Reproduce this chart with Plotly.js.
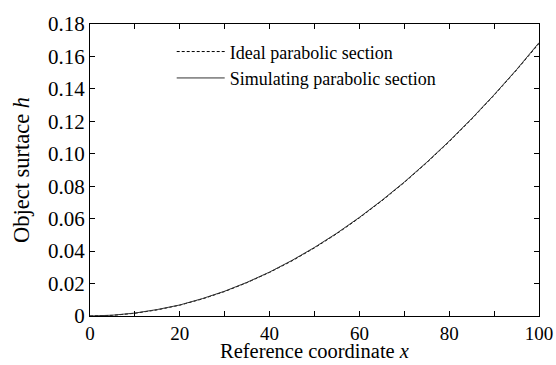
<!DOCTYPE html>
<html>
<head>
<meta charset="utf-8">
<script src="https://cdn.plot.ly/plotly-3.0.1.min.js"></script>
<style>html,body{margin:0;padding:0;background:#fff;}#chart{width:556px;height:365px;}</style>
</head>
<body>
<div id="chart"></div>
<script>
const xValues = [0,5,10,15,20,25,30,35,40,45,50,55,60,65,70,75,80,85,90,95,100];
const idealH = [0,0.0004,0.0017,0.0038,0.0067,0.0105,0.0151,0.0206,0.0269,0.0340,0.0420,0.0508,0.0605,0.0710,0.0823,0.0945,0.1075,0.1214,0.1361,0.1516,0.1680];
const simulatedH = [0,0.0005,0.0018,0.0040,0.0068,0.0107,0.0153,0.0208,0.0271,0.0343,0.0423,0.0511,0.0608,0.0713,0.0826,0.0948,0.1078,0.1217,0.1364,0.1519,0.1685];
const seriesNames = ["Ideal parabolic section","Simulating parabolic section"];
const xTickVals = [0,20,40,60,80,100];
const yTickVals = [0,0.02,0.04,0.06,0.08,0.10,0.12,0.14,0.16,0.18];
const yTickText = ["0","0.02","0.04","0.06","0.08","0.10","0.12","0.14","0.16","0.18"];
const xTitle = "Reference coordinate <i>x</i>";
const yTitle = "Object surtace <i>h</i>";

const fam = "Liberation Serif, Times New Roman, serif";
const tickFont = {family: fam, size: 21, color: "#000"};

const traces = [
  {x: xValues, y: idealH, name: seriesNames[0], legendgroup: "a", mode: "lines", line: {color: "#000", width: 1, dash: "3px,2px"}},
  {x: xValues, y: simulatedH, name: seriesNames[1], legendgroup: "b", mode: "lines", line: {color: "#333", width: 1}}
];

const layout = {
  width: 556, height: 365,
  margin: {l: 90, r: 17, t: 16, b: 49},
  paper_bgcolor: "#fff", plot_bgcolor: "#fff",
  font: tickFont,
  showlegend: true,
  legend: {x: 0.182, y: 0.968, xanchor: "left", yanchor: "top", bgcolor: "rgba(0,0,0,0)",
           font: {family: fam, size: 18, color: "#000"}, traceorder: "grouped", tracegroupgap: 0, itemwidth: 48},
  xaxis: {
    range: [0, 100], tickvals: xTickVals, ticks: "inside", ticklen: 5, tickcolor: "#000",
    showline: true, linecolor: "#000", linewidth: 1, mirror: "ticks", showgrid: false, zeroline: false,
    minor: {dtick: 10, ticks: "inside", ticklen: 5, tickcolor: "#000", showgrid: false},
    tickfont: {family: fam, size: 19, color: "#000"},
    automargin: false
  },
  yaxis: {
    range: [0, 0.18], tickvals: yTickVals, ticktext: yTickText, ticks: "inside", ticklen: 5, tickcolor: "#000",
    showline: true, linecolor: "#000", linewidth: 1, mirror: "ticks", showgrid: false, zeroline: false,
    tickfont: tickFont,
    automargin: true,
    title: {text: yTitle, font: {family: fam, size: 22.5, color: "#000"}, standoff: 12}
  },
  annotations: [
    {text: xTitle, xref: "paper", yref: "paper", x: 0.5, y: -0.12, xanchor: "center", yanchor: "middle",
     showarrow: false, font: {family: fam, size: 20.5, color: "#000"}}
  ]
};

Plotly.newPlot("chart", traces, layout, {staticPlot: true, displayModeBar: false});
</script>
</body>
</html>
